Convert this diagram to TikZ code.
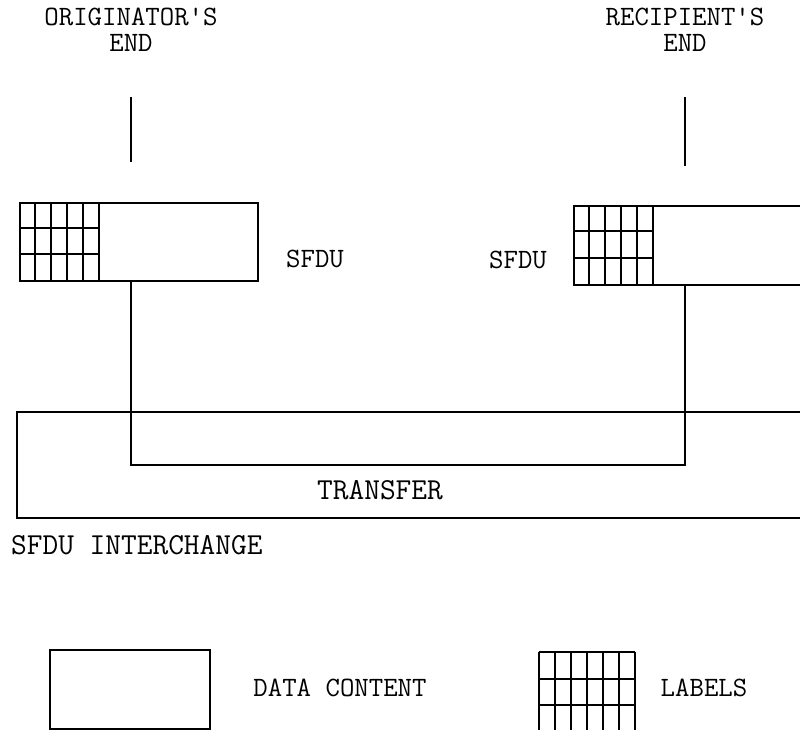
\documentclass[tikz,border=0pt]{standalone}
\usepackage{fontspec}
\begin{document}
\begin{tikzpicture}[x=1pt,y=-1pt,
  ln/.style={line width=1.7pt},
  lbl/.style={font=\ttfamily\fontsize{28}{26}\selectfont, inner sep=0pt, align=center},
  wlbl/.style={lbl, font=\ttfamily\fontsize{30.5}{26}\selectfont}]
\useasboundingbox (0,0) rectangle (800,729);
\clip (0,0) rectangle (800,729);
% top labels
\node[lbl] (orig) at (131,30) {ORIGINATOR'S\\END};
\node[lbl] (reci) at (685,30) {RECIPIENT'S\\END};
\coordinate (ot) at (131,97);
\coordinate (rt) at (685,97);
% left SFDU
\node[ln, draw, anchor=north west, minimum width=238pt, minimum height=78pt, inner sep=0pt] (lbox) at (19,202) {};
\foreach \x in {35,51,67,83,99} \draw[ln] (\x,202) -- (\x,280);
\foreach \y in {228,254} \draw[ln] (19,\y) -- (99,\y);
% right SFDU
\node[ln, draw, anchor=north west, minimum width=260pt, minimum height=79pt, inner sep=0pt] (rbox) at (573,205) {};
\foreach \x in {589,605,621,637,653} \draw[ln] (\x,205) -- (\x,284);
\foreach \y in {231.3,257.7} \draw[ln] (573,\y) -- (653,\y);
% connectors top
\draw[ln] (ot) -- (131,162);
\draw[ln] (rt) -- (685,166);
% labels SFDU
\node[lbl] (ls) at (315,259) {SFDU};
\node[lbl] (rs) at (518,260) {SFDU};
% transfer path
\coordinate (lb) at (131,280);
\coordinate (rb) at (685,284);
\draw[ln] (lb) -- (131,465) -- (685,465) -- (rb);
% outer interchange box (open at right)
\draw[ln] (810,412) -- (17,412) -- (17,518) -- (810,518);
\node[wlbl] (tr) at (380,490) {TRANSFER};
\node[wlbl, anchor=west] (ic) at (11,545) {SFDU INTERCHANGE};
% legend
\node[ln, draw, anchor=north west, minimum width=160pt, minimum height=79pt, inner sep=0pt] (dc) at (49,649) {};
\node[lbl] (dct) at (340,688) {DATA CONTENT};
\foreach \x in {539,555,571,587,603,619,635} \draw[ln] (\x,652) -- (\x,735);
\foreach \y in {652,679,705} \draw[ln] (539,\y) -- (635,\y);
\node[lbl] (lt) at (704,688) {LABELS};
\end{tikzpicture}
\end{document}
